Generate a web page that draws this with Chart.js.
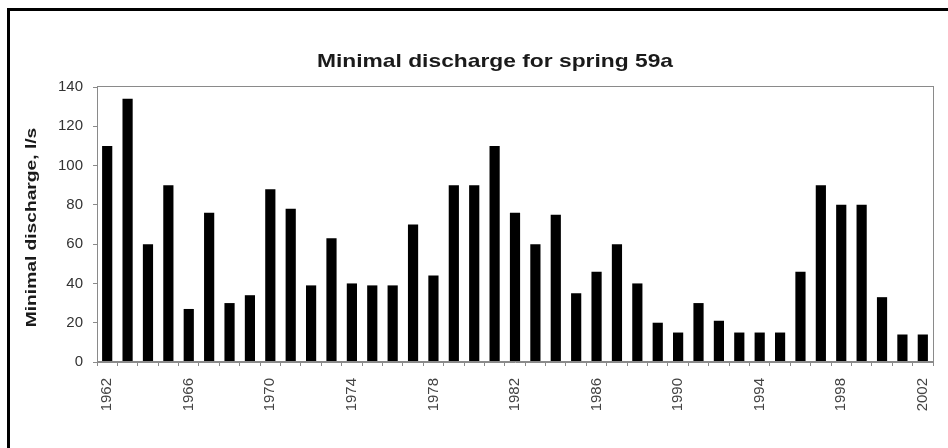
<!DOCTYPE html>
<html>
<head>
<meta charset="utf-8">
<script src="https://cdn.jsdelivr.net/npm/chart.js@4"></script>
<style>
body{margin:0;background:#fff}
#wrap{width:948px;height:448px;position:relative}
</style>
</head>
<body>
<div id="wrap"><canvas id="c" width="948" height="448"></canvas></div>
<script>
const chartTitle="Minimal discharge for spring 59a"
const yTitle="Minimal discharge, l/s"

const years=[1962,1963,1964,1965,1966,1967,1968,1969,1970,1971,1972,1973,1974,1975,1976,1977,1978,1979,1980,1981,
1982,1983,1984,1985,1986,1987,1988,1989,1990,1991,1992,1993,1994,1995,1996,1997,1998,1999,2000,2001,2002]

const discharge=[110,134,60,90,27,76,30,34,88,78,39,63,40,39,39,70,44,90,90,110,
76,60,75,35,46,60,40,20,15,30,21,15,15,15,46,90,80,80,33,14,14]

const yTicks=[0,20,40,60,80,100,120,140]

const fontFam="'Liberation Sans', Arial, sans-serif"

// outer frame, plot box and the (slightly stretched) titles
const frame={
id:"frame",
beforeDraw(ch){
const c=ch.ctx
c.save()
c.fillStyle="#fff"
c.fillRect(0,0,ch.width,ch.height)
c.strokeStyle="#000"
c.lineWidth=3
c.beginPath()
c.moveTo(8.5,ch.height+2)
c.lineTo(8.5,9.5)
c.lineTo(ch.width+2,9.5)
c.stroke()
c.restore()
},
afterDraw(ch){
const a=ch.chartArea
const c=ch.ctx
c.save()
c.strokeStyle="#8a8a8a"
c.lineWidth=1
c.strokeRect(a.left+0.5,a.top-0.5,a.right-a.left,a.bottom-a.top)
c.fillStyle="#1a1a1a"
c.textAlign="center"
c.textBaseline="middle"
c.font="bold 19px "+fontFam
c.translate((a.left+a.right)/2-20,62)
c.scale(1.2,1)
c.fillText(chartTitle,0,0)
c.restore()

c.save()
c.fillStyle="#1a1a1a"
c.textAlign="center"
c.textBaseline="middle"
c.font="bold 15px "+fontFam
c.translate(32,(a.top+a.bottom)/2+3)
c.rotate(-Math.PI/2)
c.scale(1.28,1)
c.fillText(yTitle,0,0)
c.restore()
}
}

new Chart(document.getElementById("c"),{
type:"bar",
data:{labels:years.map(String),datasets:[{data:discharge,backgroundColor:"#000",barPercentage:0.5,categoryPercentage:1}]},
options:{
responsive:false,
animation:false,
layout:{padding:{left:14,right:15,top:87,bottom:0}},
plugins:{legend:{display:false},tooltip:{enabled:false}},
scales:{
x:{
offset:true,
grid:{display:true,offset:true,drawOnChartArea:false,tickLength:4,color:"#8a8a8a"},
border:{color:"#8a8a8a"},
ticks:{
autoSkip:false,maxRotation:90,minRotation:90,padding:12,color:"#444",
font:{family:fontFam,size:15},
callback:function(v,i){return i%4===0?years[i]:""}
},
afterFit(s){s.height=86;s.paddingLeft=0;s.paddingRight=0}
},
y:{
min:0,max:140,
afterBuildTicks(s){s.ticks=yTicks.map(v=>({value:v}))},
grid:{display:true,drawOnChartArea:false,tickLength:4,color:"#8a8a8a"},
border:{color:"#8a8a8a"},
ticks:{padding:10,color:"#333",font:{family:fontFam,size:15}},
afterFit(s){s.width=83}
}
}
},
plugins:[frame]
})
</script>
</body>
</html>
